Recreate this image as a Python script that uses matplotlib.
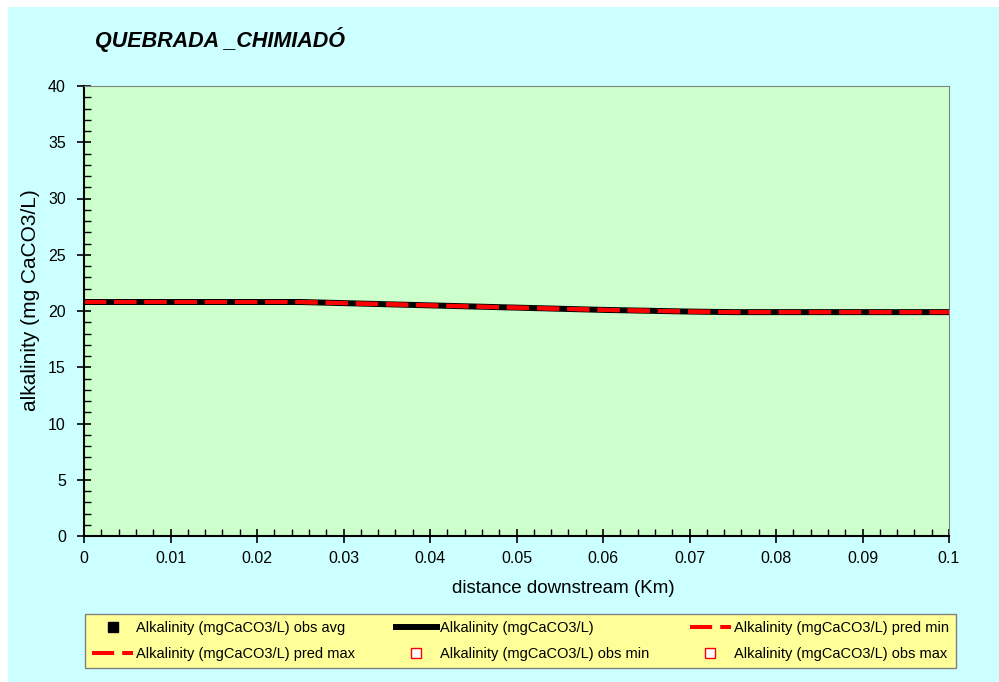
import numpy as np
import matplotlib
matplotlib.use("Agg")
import matplotlib.pyplot as plt
from matplotlib.patches import Rectangle
from matplotlib.ticker import MultipleLocator

plt.rcParams['font.family'] = ['Liberation Sans', 'DejaVu Sans']

# data
dist_km = [0.0, 0.025, 0.03, 0.04, 0.05, 0.06, 0.07, 0.075, 0.1]
alk_pred = [20.8, 20.8, 20.7, 20.5, 20.3, 20.1, 19.95, 19.9, 19.9]
alk_pred_min = alk_pred
alk_pred_max = alk_pred
obs_dist = []
obs_avg = []
obs_min = []
obs_max = []
xtick_labels = ['0', '0.01', '0.02', '0.03', '0.04', '0.05', '0.06', '0.07', '0.08', '0.09', '0.1']

W, H = 999, 682
fig = plt.figure(figsize=(W / 100, H / 100), dpi=100)
fig.patch.set_facecolor('white')
fig.patches.append(Rectangle((8 / W, 0), 1 - 8 / W, 1 - 7 / H, transform=fig.transFigure,
                             facecolor='#CCFFFF', edgecolor='none', zorder=-10))

ax = fig.add_axes([84 / W, 1 - 536 / H, (949 - 84) / W, (536 - 86) / H])
ax.set_facecolor('#CCFFCC')

ax.plot(obs_dist, obs_avg, ls='none', marker='s', color='black', ms=7.5,
        label='Alkalinity (mgCaCO3/L) obs avg')
ax.plot(dist_km, alk_pred, color='black', lw=4.3, label='Alkalinity (mgCaCO3/L)')
ax.plot(dist_km, alk_pred_min, color='red', lw=2.9, dashes=(5.5, 2),
        label='Alkalinity (mgCaCO3/L) pred min')
ax.plot(dist_km, alk_pred_max, color='red', lw=2.9, dashes=(5.5, 2),
        label='Alkalinity (mgCaCO3/L) pred max')
ax.plot(obs_dist, obs_min, ls='none', marker='s', mfc='white', mec='red', ms=7.5,
        label='Alkalinity (mgCaCO3/L) obs min')
ax.plot(obs_dist, obs_max, ls='none', marker='s', mfc='white', mec='red', ms=7.5,
        label='Alkalinity (mgCaCO3/L) obs max')

ax.set_xlim(0, 0.1)
ax.set_ylim(0, 40)
ax.set_xticks(np.arange(0, 0.1001, 0.01))
ax.set_xticklabels(xtick_labels)
ax.xaxis.set_minor_locator(MultipleLocator(0.002))
ax.yaxis.set_major_locator(MultipleLocator(5))
ax.yaxis.set_minor_locator(MultipleLocator(1))
ax.tick_params(which='major', direction='inout', length=10, width=1.2, labelsize=11.5)
ax.tick_params(axis='y', which='major', pad=8)
ax.tick_params(axis='x', which='major', pad=6)
ax.tick_params(which='minor', direction='in', length=5, width=1.0)
for s in ['top', 'right']:
    ax.spines[s].set_color('#808080')
for s in ['left', 'bottom']:
    ax.spines[s].set_color('black')
    ax.spines[s].set_linewidth(1.5)

ax.set_xlabel('distance downstream (Km)', fontsize=13.5)
ax.xaxis.set_label_coords(0.554, -0.1156)
ax.xaxis.label.set_va('center')
ax.set_ylabel('alkalinity (mg CaCO3/L)', fontsize=15)
ax.yaxis.set_label_coords(-0.0613, 0.524)
ax.yaxis.label.set_va('center')

fig.text(95 / W, 1 - 40 / H, 'QUEBRADA _CHIMIADÓ', fontsize=15.5, fontweight='bold',
         fontstyle='italic', va='center', ha='left')

handles, labels = ax.get_legend_handles_labels()
order = [0, 3, 1, 4, 2, 5]
leg = fig.legend([handles[i] for i in order], [labels[i] for i in order],
                 loc='lower left', ncol=3, mode='expand',
                 bbox_to_anchor=(85 / W, 1 - 668 / H, (956 - 85) / W, 53 / H),
                 fontsize=10.5, frameon=True, fancybox=False, borderaxespad=0,
                 handlelength=2.8, handletextpad=0.2, labelspacing=0.8, borderpad=0.5)
leg.get_frame().set_facecolor('#FFFF99')
leg.get_frame().set_edgecolor('#808080')
leg.get_frame().set_alpha(1)

fig.savefig('out.png', dpi=100, facecolor=fig.get_facecolor())
